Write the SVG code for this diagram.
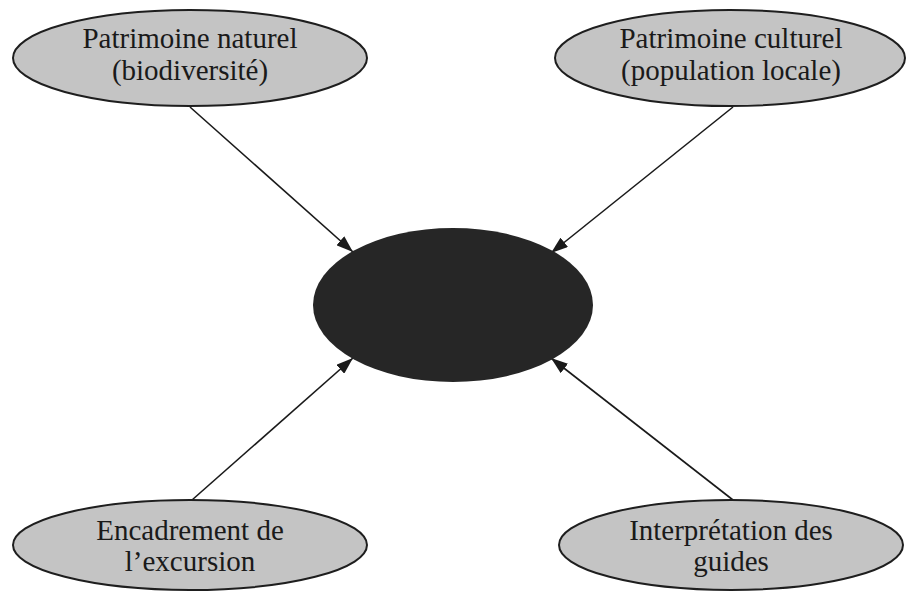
<svg xmlns="http://www.w3.org/2000/svg" width="906" height="597" viewBox="0 0 906 597">
  <style>
    .node { fill: #c4c4c4; stroke: #1e1e1e; stroke-width: 2; }
    .core { fill: #262626; }
    .label { font-family: "Liberation Serif", "Times New Roman", serif; font-size: 29px; fill: #1a1a1a; text-anchor: middle; }
    .link { stroke: #1a1a1a; stroke-width: 1.6; fill: none; marker-end: url(#head); }
  </style>
  <defs>
    <marker id="head" markerWidth="17" markerHeight="12" refX="17" refY="6" orient="auto" markerUnits="userSpaceOnUse">
      <path d="M0,0 L17,6 L0,12 Z" fill="#1a1a1a"/>
    </marker>
  </defs>
  <rect width="906" height="597" fill="#ffffff"/>

  <g id="connectors">
    <line class="link" x1="190" y1="107" x2="353" y2="252"/>
    <line class="link" x1="733" y1="107" x2="551" y2="253"/>
    <line class="link" x1="192" y1="500" x2="353" y2="358"/>
    <line class="link" x1="733" y1="500" x2="551" y2="358"/>
  </g>

  <g id="centre">
    <ellipse class="core" cx="453" cy="305" rx="140" ry="77"/>
  </g>

  <g id="patrimoine-naturel">
    <ellipse class="node" cx="190" cy="58" rx="177" ry="48"/>
    <text class="label" x="190" y="48">Patrimoine naturel</text>
    <text class="label" x="190" y="80">(biodiversité)</text>
  </g>

  <g id="patrimoine-culturel">
    <ellipse class="node" cx="730" cy="58" rx="175" ry="48"/>
    <text class="label" x="731" y="48">Patrimoine culturel</text>
    <text class="label" x="731" y="80">(population locale)</text>
  </g>

  <g id="encadrement">
    <ellipse class="node" cx="190" cy="545" rx="177" ry="45"/>
    <text class="label" x="190" y="540">Encadrement de</text>
    <text class="label" x="190" y="571">l’excursion</text>
  </g>

  <g id="interpretation">
    <ellipse class="node" cx="731" cy="545" rx="172" ry="45"/>
    <text class="label" x="731" y="540">Interprétation des</text>
    <text class="label" x="731" y="571">guides</text>
  </g>
</svg>
